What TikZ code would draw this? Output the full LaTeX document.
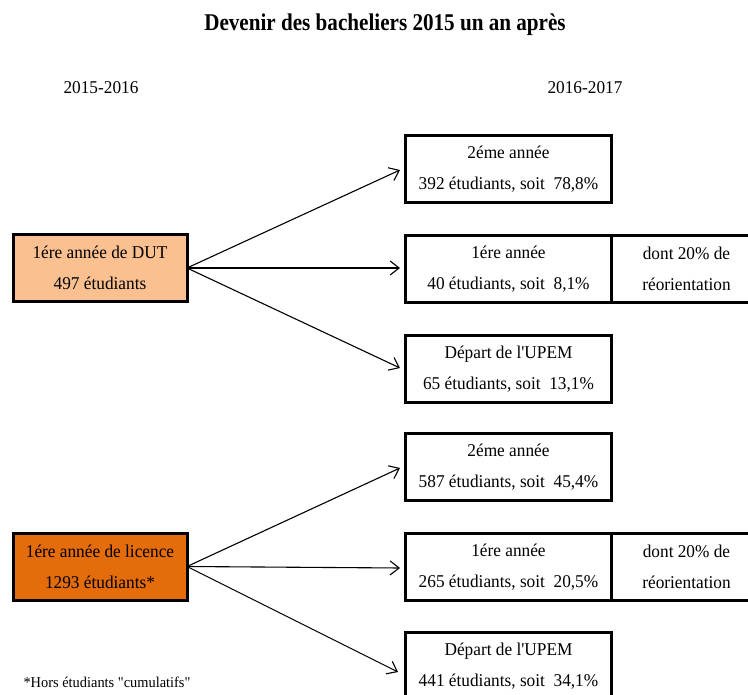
\documentclass[tikz,border=0pt]{standalone}
\usepackage{fontspec}
\setmainfont[FakeStretch=0.96, Ligatures=TeXOff]{Liberation Serif}
\newfontfamily\titlefont[FakeStretch=0.88, UprightFont=*-Bold]{Liberation Serif}
\usetikzlibrary{arrows.meta}
\definecolor{peach}{HTML}{FAC090}
\definecolor{orangefill}{HTML}{E46C0A}
\tikzset{
  box/.style={draw=black, line width=3pt, minimum height=67pt, inner sep=0pt, outer sep=0pt, align=center,
    font=\fontsize{18}{31}\selectfont},
  lbl/.style={inner sep=0pt, font=\fontsize{18}{21}\selectfont},
  arr/.style={line width=1.1pt, -{Straight Barb[length=9pt, width=14pt, line width=1.1pt]}}
}
\begin{document}
\begin{tikzpicture}[x=1pt,y=-1pt]
\useasboundingbox (0,0) rectangle (748,695);
\clip (0,0) rectangle (748,695);
\node[inner sep=0pt, font=\titlefont\fontsize{24}{28}\selectfont] (title) at (385,25) {Devenir des bacheliers 2015 un an après};
\node[lbl] (y1) at (101,88) {2015-2016};
\node[lbl] (y2) at (585,88) {2016-2017};

% DUT group
\node[box, fill=peach, minimum width=174pt] (dut) at (100,268) {1ére année de DUT\\497 étudiants};
\node[box, minimum width=206pt] (a1) at (508.5,169) {2éme année\\392 étudiants, soit\ \ 78,8\%};
\node[box, minimum width=206pt] (a2) at (508.5,269) {1ére année\\40 étudiants, soit\ \ 8,1\%};
\node[box, minimum width=150pt, anchor=west] (a2r) at (a2.east) {dont 20\% de\\réorientation};
\node[box, minimum width=206pt] (a3) at (508.5,369) {Départ de l'UPEM\\65 étudiants, soit\ \ 13,1\%};

% Licence group
\node[box, fill=orangefill, minimum width=174pt] (lic) at (100,566.5) {1ére année de licence\\1293 étudiants*};
\node[box, minimum width=206pt] (b1) at (508.5,467) {2éme année\\587 étudiants, soit\ \ 45,4\%};
\node[box, minimum width=206pt] (b2) at (508.5,567) {1ére année\\265 étudiants, soit\ \ 20,5\%};
\node[box, minimum width=150pt, anchor=west] (b2r) at (b2.east) {dont 20\% de\\réorientation};
\node[box, minimum width=206pt] (b3) at (508.5,666) {Départ de l'UPEM\\441 étudiants, soit\ \ 34,1\%};

\node[inner sep=0pt, font=\fontsize{15}{17}\selectfont] (note) at (107,682) {*Hors étudiants "cumulatifs"};

\coordinate (t1) at (400,170);
\coordinate (t2) at (400,268);
\coordinate (t3) at (400,368);
\coordinate (u1) at (400,468);
\coordinate (u2) at (400,568);
\coordinate (u3) at (398,672);
\draw[arr] (dut.east) -- (t1);
\draw[arr] (dut.east) -- (t2);
\draw[arr] (dut.east) -- (t3);
\draw[arr] (lic.east) -- (u1);
\draw[arr] (lic.east) -- (u2);
\draw[arr] (lic.east) -- (u3);
\end{tikzpicture}
\end{document}
